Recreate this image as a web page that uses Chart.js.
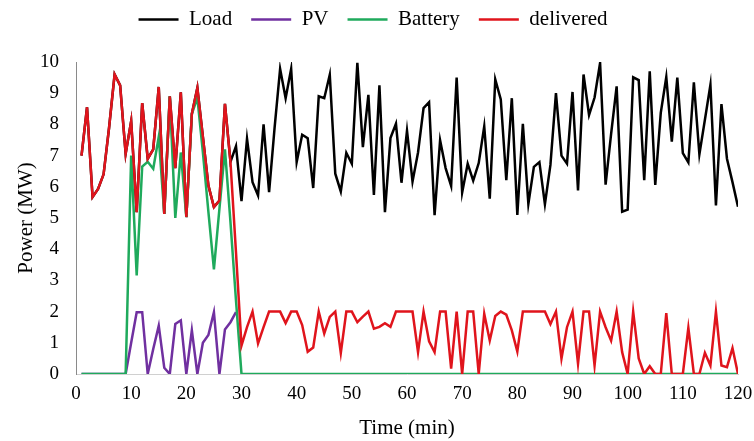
<!DOCTYPE html>
<html><head><meta charset="utf-8">
<script src="https://cdn.jsdelivr.net/npm/chart.js@4.4.1/dist/chart.umd.min.js"></script>
<style>html,body{margin:0;padding:0;background:#fff}#wrap{width:754px;height:441px;position:relative}</style>
</head><body><div id="wrap"><canvas id="c" width="754" height="441"></canvas></div>
<script>
// Time in minutes (category positions 1..120)
const minutes = Array.from({length: 120}, (_, i) => i + 1);
const xTicks = [0,10,20,30,40,50,60,70,80,90,100,110,120];
const yTicks = [0,1,2,3,4,5,6,7,8,9,10];

const delivered = [
 7.0,8.55,5.67,5.93,6.4,7.9,9.6,9.25,7.06,8.1,
 5.19,8.68,6.9,7.2,9.2,5.13,8.9,6.6,9.03,5.03,
 8.34,9.17,7.6,6.04,5.35,5.56,8.66,6.8,3.9,0.91,
 1.5,2.0,0.98,1.5,2.0,2.0,2.0,1.63,2.0,2.0,
 1.57,0.71,0.85,2.0,1.3,1.83,2.0,0.67,2.0,2.0,
 1.66,1.84,2.0,1.45,1.51,1.63,1.51,2.0,2.0,2.0,
 2.0,0.7,2.0,1.05,0.7,2.0,2.0,0.17,2.0,0,
 2.0,2.0,0,1.93,1.07,1.86,2.0,1.9,1.4,0.72,
 2.0,2.0,2.0,2.0,2.0,1.6,2.0,0.49,1.5,2.0,
 0.33,2.0,2.0,0.27,2.0,1.5,1.07,2.0,0.7,0,
 2.0,0.5,0,0.25,0,0,1.95,0,0,0,
 1.48,0,0,0.68,0.27,2.0,0.27,0.22,0.83,0
];
const load = [
 7.0,8.55,5.67,5.93,6.4,7.9,9.6,9.25,7.06,8.1,
 5.19,8.68,6.9,7.2,9.2,5.13,8.9,6.6,9.03,5.03,
 8.34,9.17,7.6,6.04,5.35,5.56,8.66,6.8,7.3,5.54,
 7.54,6.15,5.72,8.0,5.83,7.9,9.78,8.84,9.78,6.79,
 7.67,7.56,5.96,8.9,8.84,9.59,6.42,5.85,7.09,6.74,
 9.97,7.27,8.95,5.74,9.25,5.19,7.56,8.02,6.13,7.8,
 6.17,7.1,8.52,8.71,5.09,7.49,6.6,6.03,9.5,5.82,
 6.74,6.2,6.76,7.94,5.62,9.44,8.8,6.21,8.84,5.1,
 8.02,5.45,6.64,6.79,5.44,6.7,9.0,7.0,6.74,9.04,
 5.88,9.6,8.3,8.86,9.97,6.07,7.7,9.22,5.2,5.27,
 9.51,9.42,6.21,9.7,6.06,8.37,9.52,7.45,9.5,7.08,
 6.78,9.35,7.04,8.15,9.27,5.4,8.65,6.9,6.15,5.36
];
const pv = [
 0,0,0,0,0,0,0,0,0,1.0,
 1.98,1.98,0,0.8,1.55,0.2,0,1.6,1.72,0,
 1.4,0,1.0,1.25,1.98,0,1.43,1.66,1.98
];
const battery = [
 0,0,0,0,0,0,0,0,0,7.0,
 3.16,6.65,6.8,6.58,7.6,5.13,8.9,5.0,7.1,5.03,
 8.34,8.85,7.1,5.2,3.35,5.3,7.2,4.87,2.36,0,
 0,0,0,0,0,0,0,0,0,0,
 0,0,0,0,0,0,0,0,0,0,
 0,0,0,0,0,0,0,0,0,0,
 0,0,0,0,0,0,0,0,0,0,
 0,0,0,0,0,0,0,0,0,0,
 0,0,0,0,0,0,0,0,0,0,
 0,0,0,0,0,0,0,0,0,0,
 0,0,0,0,0,0,0,0,0,0,
 0,0,0,0,0,0,0,0,0,0
];

const toXY = arr => arr.map((v, i) => ({x: minutes[i], y: v}));
const FONT = "'Liberation Serif', 'Times New Roman', serif";

const mk = (label, arr, color, order) => ({
  label, data: toXY(arr), borderColor: color, backgroundColor: color,
  borderWidth: 2.5, pointRadius: 0, tension: 0, order, fill: false
});

new Chart(document.getElementById('c'), {
  type: 'line',
  data: {
    datasets: [
      mk('Load', load, '#000000', 4),
      mk('PV', pv, '#7030a0', 3),
      mk('Battery', battery, '#1faa5c', 2),
      mk('delivered', delivered, '#e0141c', 1)
    ]
  },
  options: {
    responsive: false,
    devicePixelRatio: 1,
    animation: false,
    layout: {padding: {top: -10, right: 16, left: 8, bottom: 0}},
    plugins: {
      tooltip: {enabled: false},
      subtitle: {display: true, text: '', weight: 500, font: {size: 10}, padding: {top: 0, bottom: 10}},
      legend: {
        position: 'top',
        labels: {
          font: {family: FONT, size: 21},
          color: '#000',
          usePointStyle: true,
          pointStyle: 'line',
          pointStyleWidth: 40,
          boxHeight: 20,
          padding: 19,
          sort: (a, b) => a.datasetIndex - b.datasetIndex
        }
      }
    },
    scales: {
      x: {
        type: 'linear', min: 0, max: 120,
        afterBuildTicks: s => { s.ticks = xTicks.map(v => ({value: v})); },
        afterFit: s => { s.height = 67; s.paddingRight = 0; s.paddingLeft = 0; },
        ticks: {font: {family: FONT, size: 19}, color: '#000', padding: 9, maxRotation: 0},
        grid: {display: false, drawTicks: false},
        border: {display: true, color: '#d0d0d0', width: 1},
        title: {display: true, text: 'Time (min)', font: {family: FONT, size: 21}, color: '#000', padding: {top: 4, bottom: 0}}
      },
      y: {
        min: 0, max: 10,
        afterBuildTicks: s => { s.ticks = yTicks.map(v => ({value: v})); },
        afterFit: s => { s.width = 68; },
        ticks: {font: {family: FONT, size: 19}, color: '#000', padding: 17},
        grid: {display: false, drawTicks: false},
        border: {display: true, color: '#8a8a8a', width: 1},
        title: {display: true, text: 'Power (MW)', font: {family: FONT, size: 21}, color: '#000', padding: {top: 6, bottom: 0}}
      }
    }
  }
});
</script>
</body></html>
